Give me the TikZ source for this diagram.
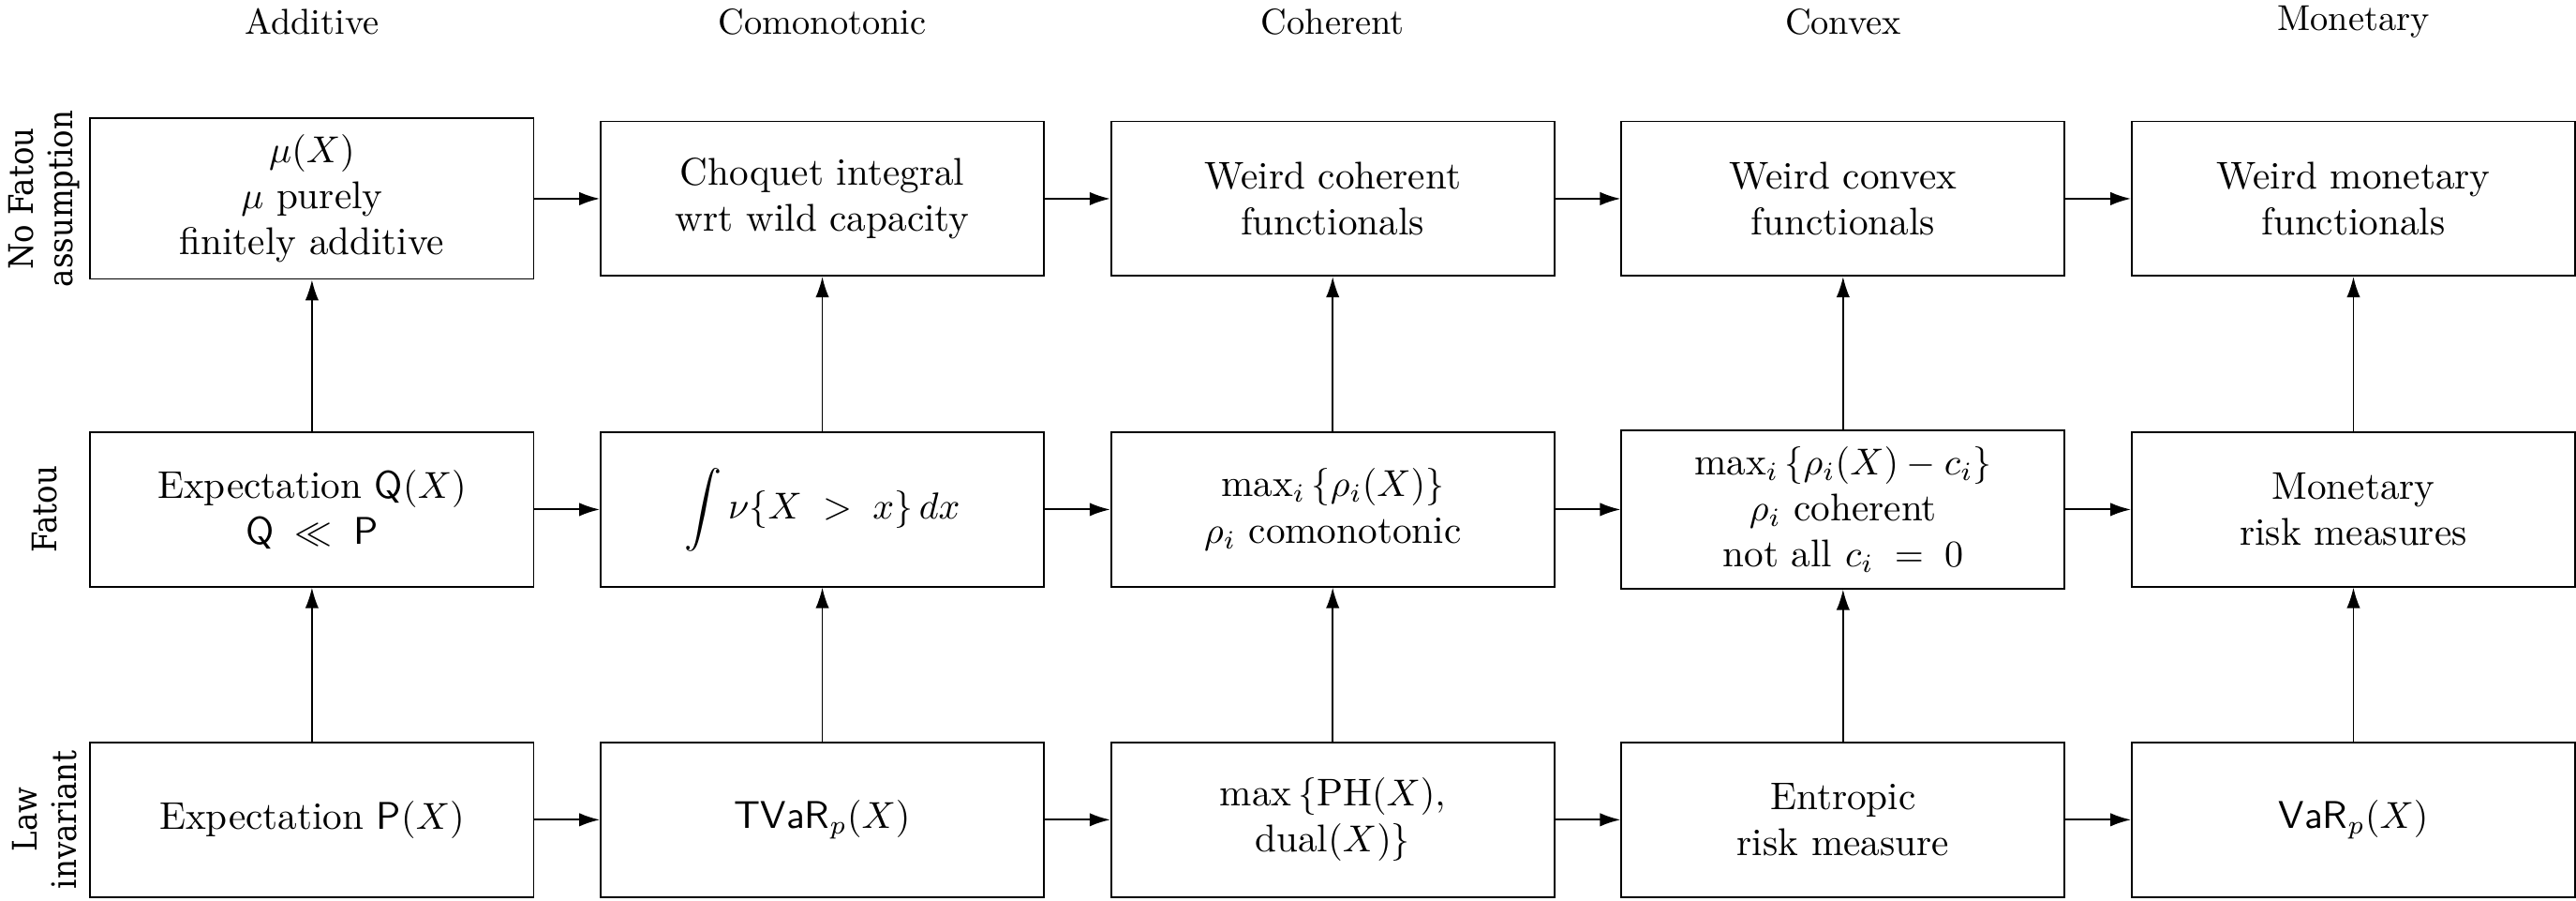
\documentclass[tikz,border=0pt]{standalone}
\usepackage{fontspec}
\newfontfamily\labelfont[FakeStretch=0.9]{DejaVu Serif}
\usetikzlibrary{arrows.meta}
\begin{document}
\begin{tikzpicture}[x=1pt,y=1pt,
  box/.style={draw, line width=0.45pt, minimum width=118.3pt, minimum height=41.2pt,
    align=center, inner xsep=3pt, inner ysep=4.3pt, font=\fontsize{10.3}{12.3}\selectfont},
  coltitle/.style={anchor=base, font=\fontsize{9.6}{11}\selectfont},
  rowlabel/.style={rotate=90, align=center, font=\labelfont\fontsize{9}{10.5}\selectfont},
  harrow/.style={-{Latex[length=5.5pt,width=3.6pt]}, line width=0.5pt},
  varrow/.style={-{Latex[length=5.5pt,width=3.6pt]}, line width=0.4pt}]
\useasboundingbox (0,0) rectangle (687.45,-240.3);

% column titles
\node[coltitle] (h1) at (83.25,-9.2) {Additive};
\node[coltitle] (h2) at (219.45,-9.2) {Comonotonic};
\node[coltitle] (h3) at (355.65,-9.2) {Coherent};
\node[coltitle] (h4) at (491.85,-9.2) {Convex};
\node[coltitle] (h5) at (628.05,-8.1) {Monetary};

% row labels
\node[rowlabel] (r1) at (11.7,-53) {No Fatou\\assumption};
\node[rowlabel] (r2) at (12,-135.9) {Fatou};
\node[rowlabel] (r3) at (11.8,-218.6) {Law\\invariant};

% top row
\node[box] (t1) at (83.25,-53) {$\mu(X)$\\$\mu$ purely\\finitely additive};
\node[box] (t2) at (219.45,-53) {Choquet integral\\wrt wild capacity};
\node[box] (t3) at (355.65,-53) {Weird coherent\\functionals};
\node[box] (t4) at (491.85,-53) {Weird convex\\functionals};
\node[box] (t5) at (628.05,-53) {Weird monetary\\functionals};

% middle row
\node[box] (m1) at (83.25,-135.9) {Expectation $\mathsf{Q}(X)$\\$\mathsf{Q}\;\ll\;\mathsf{P}$};
\node[box] (m2) at (219.45,-135.9) {$\displaystyle\int\nu\{X\;>\;x\}\,dx$};
\node[box] (m3) at (355.65,-135.9) {$\max_i\left\{\rho_i(X)\right\}$\\$\rho_i$ comonotonic};
\node[box] (m4) at (491.85,-135.9) {$\max_i\left\{\rho_i(X)-c_i\right\}$\\$\rho_i$ coherent\\not all $c_i\;=\;0$};
\node[box] (m5) at (628.05,-135.9) {Monetary\\risk measures};

% bottom row
\node[box] (b1) at (83.25,-218.65) {Expectation $\mathsf{P}(X)$};
\node[box] (b2) at (219.45,-218.65) {$\mathsf{TVaR}_p(X)$};
\node[box] (b3) at (355.65,-218.65) {$\max\,\{\mathrm{PH}(X),$\\$\mathrm{dual}(X)\}$};
\node[box] (b4) at (491.85,-218.65) {Entropic\\risk measure};
\node[box] (b5) at (628.05,-218.65) {$\mathsf{VaR}_p(X)$};

% horizontal arrows
\foreach \r in {t,m,b}{
  \draw[harrow] (\r1) -- (\r2);
  \draw[harrow] (\r2) -- (\r3);
  \draw[harrow] (\r3) -- (\r4);
  \draw[harrow] (\r4) -- (\r5);
}
% vertical arrows
\foreach \c in {1,...,5}{
  \draw[varrow] (b\c) -- (m\c);
  \draw[varrow] (m\c) -- (t\c);
}
\end{tikzpicture}
\end{document}
